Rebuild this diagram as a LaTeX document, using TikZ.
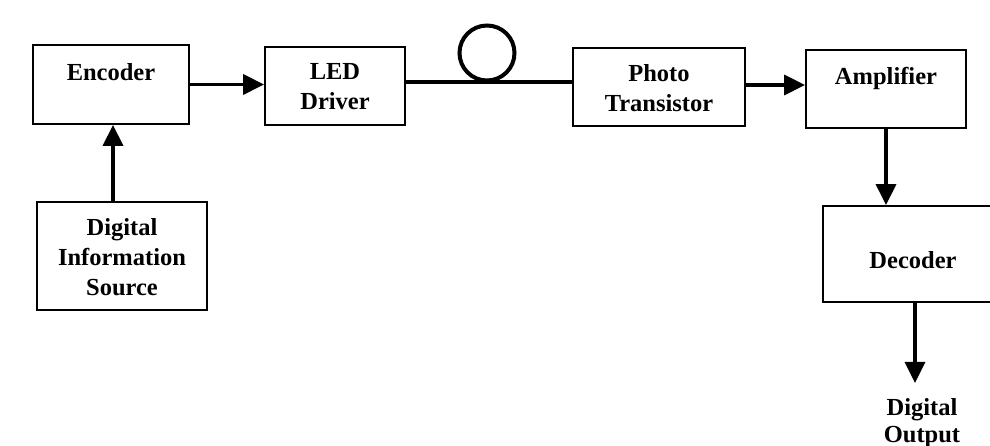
\documentclass[tikz,border=0pt]{standalone}
\usepackage{fontspec}
\setmainfont{Liberation Serif}
\usetikzlibrary{arrows.meta,calc}
\begin{document}
\begin{tikzpicture}[x=1bp,y=-1bp,
  blk/.style={draw, line width=1.8bp, inner sep=0pt},
  txt/.style={font=\bfseries\fontsize{24.5bp}{30bp}\selectfont, align=center, inner sep=0pt},
  arr/.style={line width=3.4bp, -{Triangle[length=21bp,width=20bp]}},
  fib/.style={line width=3.2bp}]
\useasboundingbox (0,0) rectangle (990,446);
\clip (0,0) rectangle (990,446);
% boxes
\node[blk, minimum width=156bp, minimum height=79bp] (enc) at (111,84.5) {};
\node[blk, minimum width=140bp, minimum height=78bp] (led) at (335,86) {};
\node[blk, minimum width=172bp, minimum height=78bp] (pt) at (659,87) {};
\node[blk, minimum width=160bp, minimum height=78bp] (amp) at (886,89) {};
\node[blk, minimum width=180bp, minimum height=96bp] (dec) at (913,254) {};
\node[blk, minimum width=170bp, minimum height=108bp] (dis) at (122,256) {};
\node[draw, circle, line width=4bp, minimum size=55bp, inner sep=0pt] (fiber) at (487,53) {};
% texts
\node[txt] (tenc) at (111,72) {Encoder};
\node[txt] (tled) at (335,87) {LED\\Driver};
\node[txt] (tpt) at (659,88) {Photo\\Transistor};
\node[txt] (tamp) at (886,78) {Amplifier};
\node[txt] (tdec) at (913,260) {Decoder};
\node[txt] (tdis) at (122,257) {Digital\\Information\\Source};
\coordinate (out) at (915,383);
\node[txt, font=\bfseries\fontsize{24.5bp}{27bp}\selectfont] (tout) at (922,423) {Digital\\Output};
% connectors
\draw[arr] (enc.east) -- (enc.east -| led.west);
\draw[fib] ([yshift=4bp]led.east) -- ([yshift=4bp]led.east -| pt.west);
\draw[arr] ([yshift=2bp]pt.east) -- ([yshift=2bp]pt.east -| amp.west);
\draw[arr] (amp.south) -- (amp.south |- dec.north);
\draw[arr] (dis.north -| 113,0) -- (enc.south -| 113,0);
\draw[arr] (dec.south -| out) -- (out);
\end{tikzpicture}
\end{document}
